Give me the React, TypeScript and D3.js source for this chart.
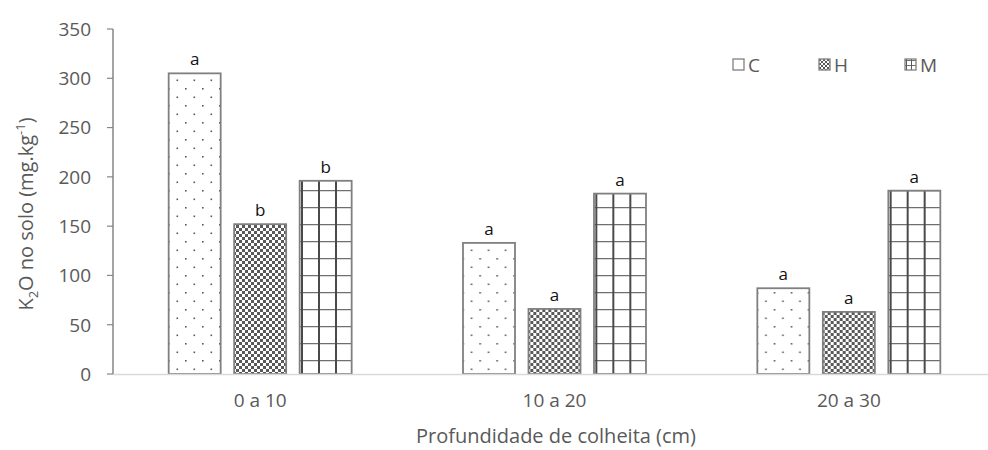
import * as d3 from "d3";

const categories = ["0 a 10", "10 a 20", "20 a 30"];
const seriesNames = ["C", "H", "M"];
const valuesC = [305, 133, 87];
const valuesH = [152, 66, 63];
const valuesM = [196, 183, 186];
const lettersC = ["a", "a", "a"];
const lettersH = ["b", "a", "a"];
const lettersM = ["b", "a", "a"];
const yTicks = [0, 50, 100, 150, 200, 250, 300, 350];

const W = 988;
const H = 450;
const margin = { top: 29, right: -8, bottom: 76, left: 113 };
const font = "'Open Sans', 'Liberation Sans', sans-serif";

const App = () => {
  const x0 = d3.scaleBand<string>().domain(categories).range([margin.left, W - margin.right]);
  const x1 = d3.scaleBand<string>().domain(seriesNames).range([0, x0.bandwidth()])
    .paddingInner(0.206).paddingOuter(0.85);
  const y = d3.scaleLinear().domain([0, 350]).range([H - margin.bottom, margin.top]);

  const series = [
    { name: "C", values: valuesC, letters: lettersC, fill: "url(#dots)" },
    { name: "H", values: valuesH, letters: lettersH, fill: "url(#checker)" },
    { name: "M", values: valuesM, letters: lettersM, fill: "url(#grid)" },
  ];
  const legendFill: Record<string, string> = { C: "url(#ldots)", H: "url(#lchecker)", M: "url(#lgrid)" };
  const legendX = d3.scalePoint<string>().domain(seriesNames).range([733, 905]);

  return (
    <div style={{ position: "fixed", left: 0, top: 0 }}>
      <svg width={W} height={H} style={{ display: "block", background: "#fff" }} fontFamily={font}>
        <defs>
          <pattern id="dots" patternUnits="userSpaceOnUse" width={17} height={17} x={0} y={0}>
            <rect width={17} height={17} fill="#fff" />
            <rect x={4} y={3} width={1.6} height={1.6} fill="#595959" />
            <rect x={12.5} y={11.5} width={1.6} height={1.6} fill="#595959" />
          </pattern>
          <pattern id="checker" patternUnits="userSpaceOnUse" width={6} height={6}>
            <rect width={6} height={6} fill="#fff" />
            <rect width={3} height={3} fill="#595959" />
            <rect x={3} y={3} width={3} height={3} fill="#595959" />
          </pattern>
          <pattern id="grid" patternUnits="userSpaceOnUse" width={17} height={17} x={1} y={3}>
            <rect width={17} height={17} fill="#fff" />
            <line x1={0} x2={17} y1={0.5} y2={0.5} stroke="#6f6f6f" strokeWidth={1.5} />
            <line x1={1} x2={1} y1={0} y2={17} stroke="#4a4a4a" strokeWidth={2} />
          </pattern>
          <pattern id="ldots" patternUnits="userSpaceOnUse" width={12} height={12}>
            <rect width={12} height={12} fill="#fff" />
            <rect x={735} y={66} width={1.2} height={1.2} fill="#595959" />
          </pattern>
          <pattern id="lchecker" patternUnits="userSpaceOnUse" width={4} height={4}>
            <rect width={4} height={4} fill="#fff" />
            <rect width={2} height={2} fill="#595959" />
            <rect x={2} y={2} width={2} height={2} fill="#595959" />
          </pattern>
          <pattern id="lgrid" patternUnits="userSpaceOnUse" width={5} height={5} x={1} y={1}>
            <rect width={5} height={5} fill="#fff" />
            <line x1={0} x2={5} y1={0.5} y2={0.5} stroke="#6f6f6f" strokeWidth={1} />
            <line x1={0.5} x2={0.5} y1={0} y2={5} stroke="#5a5a5a" strokeWidth={1} />
          </pattern>
        </defs>

        {/* y axis */}
        <line x1={margin.left} x2={margin.left} y1={y(350)} y2={y(0)} stroke="#868686" strokeWidth={1.5} />
        {yTicks.map(t => (
          <g key={t}>
            <line x1={margin.left - 6} x2={margin.left} y1={y(t)} y2={y(t)} stroke="#868686" strokeWidth={1.2} />
            <text x={margin.left - 22} y={y(t)} dy="0.36em" textAnchor="end" fontSize={19} fill="#595959">{t}</text>
          </g>
        ))}

        {/* bars */}
        {categories.map((c, i) => (
          <g key={c} transform={`translate(${x0(c)},0)`}>
            {series.map(s => (
              <g key={s.name}>
                <rect x={x1(s.name)} y={y(s.values[i])} width={x1.bandwidth()} height={y(0) - y(s.values[i])}
                  fill={s.fill} stroke="#808080" strokeWidth={1.8} />
                <text x={(x1(s.name) ?? 0) + x1.bandwidth() / 2} y={y(s.values[i]) - 8} textAnchor="middle"
                  fontSize={17} fill="#111">{s.letters[i]}</text>
              </g>
            ))}
          </g>
        ))}

        {/* x axis */}
        <line x1={margin.left} x2={W} y1={y(0) + 0.5} y2={y(0) + 0.5} stroke="#d9d9d9" strokeWidth={1.5} />
        {categories.map(c => (
          <text key={c} x={(x0(c) ?? 0) + x0.bandwidth() / 2} y={407} textAnchor="middle" fontSize={19} fill="#595959">{c}</text>
        ))}
        <text x={556} y={443} textAnchor="middle" fontSize={20} fill="#595959">Profundidade de colheita (cm)</text>

        {/* y title */}
        <text transform="translate(33,214) rotate(-90)" textAnchor="middle" fontSize={20} fill="#595959">
          K<tspan fontSize={13} dy={5}>2</tspan><tspan dy={-5}>O no solo (mg.kg</tspan>
          <tspan fontSize={13} dy={-8}>-1</tspan><tspan dy={8}>)</tspan>
        </text>

        {/* legend */}
        {seriesNames.map(n => (
          <g key={n} transform={`translate(${legendX(n)},59)`}>
            <rect x={0} y={0} width={11} height={11} fill={legendFill[n]} stroke="#808080" strokeWidth={1.3} />
            <text x={15} y={6} dy="0.36em" fontSize={19} fill="#595959">{n}</text>
          </g>
        ))}
      </svg>
    </div>
  );
};

export default App;
